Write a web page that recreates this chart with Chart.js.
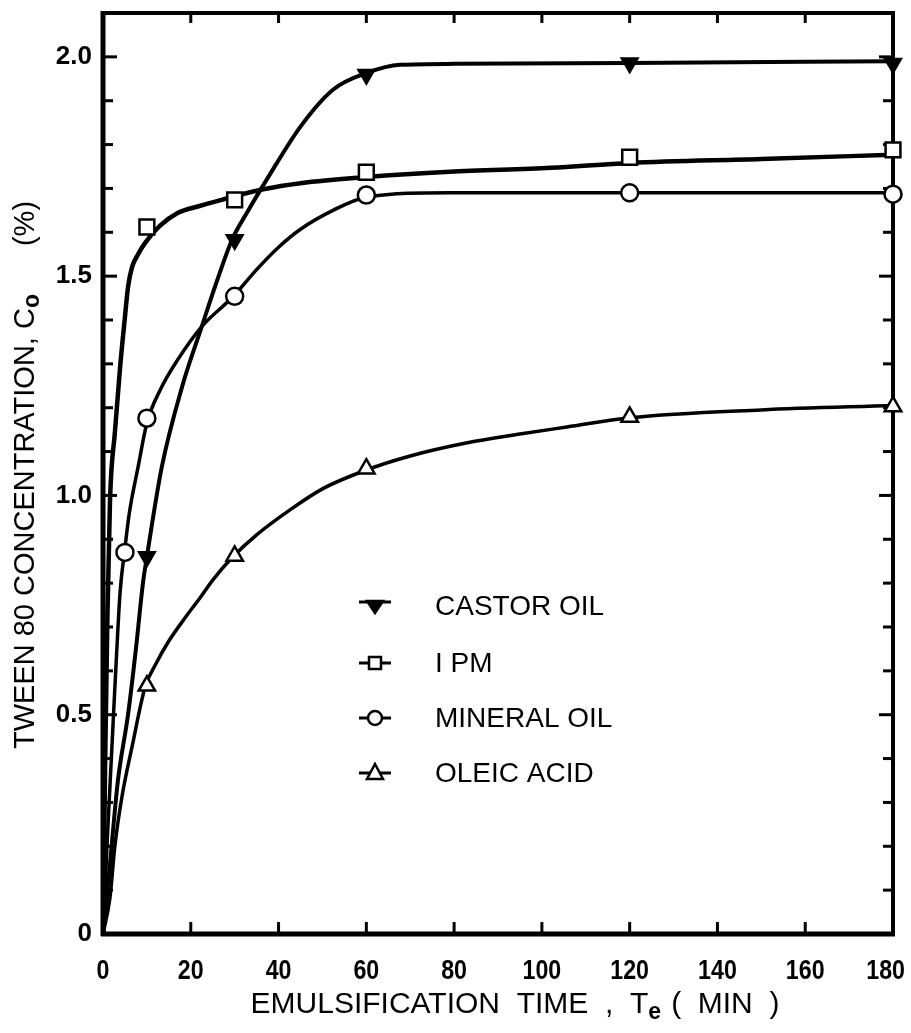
<!DOCTYPE html>
<html>
<head>
<meta charset="utf-8">
<script src="https://cdn.jsdelivr.net/npm/chart.js@4.4.1/dist/chart.umd.min.js"></script>
<style>
  html, body { margin: 0; padding: 0; background: #fff; }
</style>
</head>
<body>
<canvas id="chart" width="911" height="1033"></canvas>
<script>
// measured points (markers)
const castorTime = [10, 30, 60, 120, 180];
const castorConc = [0.86, 1.583, 1.96, 1.986, 1.985];
const ipmTime = [10, 30, 60, 120, 180];
const ipmConc = [1.612, 1.674, 1.737, 1.771, 1.788];
const mineralTime = [5, 10, 30, 60, 120, 180];
const mineralConc = [0.87, 1.176, 1.454, 1.685, 1.69, 1.687];
const oleicTime = [10, 30, 60, 120, 180];
const oleicConc = [0.566, 0.862, 1.061, 1.179, 1.203];

// hand-drawn curves
const castorFitTime = [0, 1.5, 3.4, 5.7, 7.5, 9.1, 10, 13.4, 18, 22.5, 26, 29.4, 33, 37.3, 45, 52.4, 60, 67.7, 80, 120, 180];
const castorFitConc = [0, 0.15, 0.35, 0.5, 0.65, 0.8, 0.86, 1.065, 1.247, 1.385, 1.49, 1.583, 1.648, 1.72, 1.841, 1.925, 1.963, 1.982, 1.984, 1.986, 1.99];
const ipmFitTime = [0, 0.5, 1, 1.6, 2.7, 3.9, 5, 5.7, 6.6, 8, 9.6, 13, 17, 22, 27, 36.5, 45, 60, 79, 102, 120, 150, 180];
const ipmFitConc = [0, 0.4, 0.72, 0.99, 1.143, 1.293, 1.407, 1.475, 1.52, 1.55, 1.576, 1.615, 1.644, 1.66, 1.674, 1.698, 1.712, 1.726, 1.738, 1.747, 1.758, 1.767, 1.777];
const mineralFitTime = [0, 1, 2, 3, 3.9, 5, 6, 8, 10, 13, 17, 22.5, 29.6, 35, 40, 45, 52.4, 60, 79, 120, 180];
const mineralFitConc = [0, 0.22, 0.42, 0.62, 0.78, 0.88, 0.96, 1.065, 1.165, 1.24, 1.309, 1.385, 1.453, 1.515, 1.566, 1.607, 1.65, 1.68, 1.69, 1.69, 1.69];
const oleicFitTime = [0, 1.6, 2.7, 4.3, 6.6, 9.6, 12, 15, 19, 22, 25, 29.6, 35, 42.6, 50, 60, 70, 83, 95, 105.7, 120, 150, 180];
const oleicFitConc = [0, 0.084, 0.2, 0.312, 0.426, 0.563, 0.615, 0.668, 0.725, 0.765, 0.807, 0.86, 0.91, 0.967, 1.015, 1.058, 1.09, 1.12, 1.14, 1.156, 1.177, 1.195, 1.205];

const xTicksMax = 180;
const yTicksMax = 2.1;

const FONT = '"Liberation Sans", Arial, sans-serif';

const pts = (xs, ys) => xs.map((x, i) => ({ x: x, y: ys[i] }));

const fitLine = (xs, ys, w) => ({
    data: pts(xs, ys),
    showLine: true,
    borderColor: '#000',
    borderWidth: w,
    pointRadius: 0,
    cubicInterpolationMode: 'monotone',
    order: 2,
});

const markers = (xs, ys, style, fill, r, rot) => ({
    data: pts(xs, ys),
    showLine: false,
    pointStyle: style,
    pointRadius: r,
    pointRotation: rot || 0,
    pointBackgroundColor: fill,
    pointBorderColor: '#000',
    pointBorderWidth: 2.5,
    clip: false,
    order: 1,
});

// frame with inward ticks on all four sides
const framePlugin = {
    id: 'frame',
    beforeDatasetsDraw(chart) {
        const { ctx, chartArea: a, scales: { x, y } } = chart;
        ctx.save();
        ctx.strokeStyle = '#000';
        ctx.lineWidth = 3;
        const seg = (x1, y1, x2, y2) => { ctx.beginPath(); ctx.moveTo(x1, y1); ctx.lineTo(x2, y2); ctx.stroke(); };
        y.ticks.forEach(t => {
            const k = Math.round(t.value * 10);
            if (k <= 0 || k >= 21) return;
            const p = y.getPixelForValue(t.value);
            const len = k % 5 === 0 ? 14 : 10;
            seg(a.left, p, a.left + len, p);
            seg(a.right, p, a.right - len, p);
        });
        x.ticks.forEach(t => {
            if (t.value <= 0 || t.value >= xTicksMax) return;
            const p = x.getPixelForValue(t.value);
            seg(p, a.bottom, p, a.bottom - 12);
            seg(p, a.top, p, a.top + 10);
        });
        ctx.lineWidth = 4;
        ctx.strokeRect(a.left, a.top, a.right - a.left, a.bottom - a.top);
        ctx.lineWidth = 5;
        seg(a.left, a.top - 2, a.left, a.bottom + 2);
        seg(a.left - 2, a.bottom, a.right + 2, a.bottom);
        ctx.restore();
    }
};

// x tick labels, a bit condensed; the last one is kept inside the canvas
const xLabelsPlugin = {
    id: 'xLabels',
    afterDraw(chart) {
        const { ctx, chartArea: a, scales: { x } } = chart;
        ctx.save();
        ctx.fillStyle = '#000';
        ctx.font = 'bold 27px ' + FONT;
        ctx.textAlign = 'center';
        ctx.textBaseline = 'middle';
        x.ticks.forEach(t => {
            const label = String(t.value);
            const w = ctx.measureText(label).width * 0.86;
            const p = Math.min(x.getPixelForValue(t.value), chart.width - w / 2 - 6);
            ctx.save();
            ctx.translate(p, a.bottom + 38);
            ctx.scale(0.86, 1);
            ctx.fillText(label, 0, 0);
            ctx.restore();
        });
        ctx.restore();
    }
};

// draws text runs, some of them as subscripts
function drawRuns(ctx, runs) {
    let total = 0;
    runs.forEach(r => { ctx.font = r.font; r.w = ctx.measureText(r.text).width; total += r.w + (r.gap || 0); });
    let cx = -total / 2;
    runs.forEach(r => {
        ctx.font = r.font;
        ctx.fillText(r.text, cx, r.dy || 0);
        cx += r.w + (r.gap || 0);
    });
}

const titlesPlugin = {
    id: 'titles',
    afterDraw(chart) {
        const { ctx, chartArea: a } = chart;
        ctx.save();
        ctx.fillStyle = '#000';
        ctx.textBaseline = 'alphabetic';
        ctx.textAlign = 'left';
        // x title
        ctx.save();
        ctx.translate(a.left + 412, 1013);
        drawRuns(ctx, [
            { text: 'EMULSIFICATION  TIME  ,  T', font: '30px ' + FONT },
            { text: 'e', font: 'bold 23px ' + FONT, dy: 6, gap: 10 },
            { text: '(  MIN  )', font: '30px ' + FONT },
        ]);
        ctx.restore();
        // y title
        ctx.save();
        ctx.translate(34, a.top + 462);
        ctx.rotate(-Math.PI / 2);
        drawRuns(ctx, [
            { text: 'TWEEN 80 CONCENTRATION, C', font: '29px ' + FONT },
            { text: 'o', font: 'bold 23px ' + FONT, dy: 5, gap: 48 },
            { text: '(%)', font: '29px ' + FONT },
        ]);
        ctx.restore();
        ctx.restore();
    }
};

const legendItems = [
    { label: 'CASTOR OIL', style: 'triDown' },
    { label: 'I PM', style: 'rect' },
    { label: 'MINERAL OIL', style: 'circle' },
    { label: 'OLEIC ACID', style: 'triUp' },
];

const legendPlugin = {
    id: 'innerLegend',
    afterDatasetsDraw(chart) {
        const { ctx, chartArea: a } = chart;
        const mx = a.left + 272, tx = a.left + 332;
        const rows = [593, 650, 705, 760];
        ctx.save();
        ctx.strokeStyle = '#000';
        ctx.fillStyle = '#000';
        legendItems.forEach((it, i) => {
            const my = a.top + rows[i];
            ctx.lineWidth = 3;
            ctx.beginPath();
            ctx.moveTo(mx - 16, it.style === 'triDown' ? my - 4 : my);
            ctx.lineTo(mx + 16, it.style === 'triDown' ? my - 4 : my);
            ctx.stroke();
            ctx.lineWidth = 2.5;
            ctx.beginPath();
            if (it.style === 'triDown') {
                ctx.moveTo(mx - 8, my - 5); ctx.lineTo(mx + 8, my - 5); ctx.lineTo(mx, my + 7); ctx.closePath();
                ctx.fillStyle = '#000'; ctx.fill(); ctx.stroke();
            } else if (it.style === 'rect') {
                ctx.rect(mx - 6, my - 6, 12, 12);
                ctx.fillStyle = '#fff'; ctx.fill(); ctx.stroke();
            } else if (it.style === 'circle') {
                ctx.arc(mx, my, 7, 0, Math.PI * 2);
                ctx.fillStyle = '#fff'; ctx.fill(); ctx.stroke();
            } else {
                ctx.moveTo(mx, my - 9); ctx.lineTo(mx + 8, my + 6); ctx.lineTo(mx - 8, my + 6); ctx.closePath();
                ctx.fillStyle = '#fff'; ctx.fill(); ctx.stroke();
            }
            ctx.fillStyle = '#000';
            ctx.font = '28px ' + FONT;
            ctx.textBaseline = 'middle';
            ctx.fillText(it.label, tx, my + 1);
        });
        ctx.restore();
    }
};

const noPad = s => { s.paddingLeft = 0; s.paddingRight = 0; s.paddingTop = 0; s.paddingBottom = 0; };

new Chart(document.getElementById('chart'), {
    type: 'scatter',
    data: {
        datasets: [
            markers(castorTime, castorConc, 'triangle', '#000', 9, 180),
            markers(ipmTime, ipmConc, 'rect', '#fff', 10.5),
            markers(mineralTime, mineralConc, 'circle', '#fff', 8.5),
            markers(oleicTime, oleicConc, 'triangle', '#fff', 9.5),
            fitLine(castorFitTime, castorFitConc, 4),
            fitLine(ipmFitTime, ipmFitConc, 4.5),
            fitLine(mineralFitTime, mineralFitConc, 3.5),
            fitLine(oleicFitTime, oleicFitConc, 3.5),
        ]
    },
    options: {
        responsive: false,
        animation: false,
        devicePixelRatio: 1,
        layout: { padding: { top: 13, right: 18, left: 0, bottom: 0 } },
        plugins: { legend: { display: false }, tooltip: { enabled: false } },
        scales: {
            x: {
                type: 'linear', min: 0, max: xTicksMax,
                grid: { display: false, drawTicks: false },
                border: { display: false },
                ticks: { stepSize: 20, display: false },
                afterFit: s => { s.height = 99; noPad(s); },
            },
            y: {
                type: 'linear', min: 0, max: yTicksMax,
                grid: { display: false, drawTicks: false },
                border: { display: false },
                ticks: {
                    stepSize: 0.1, color: '#000', padding: 11, autoSkip: false,
                    font: { family: FONT, size: 26, weight: 'bold' },
                    callback: v => {
                        const k = Math.round(v * 10);
                        if (k % 5 !== 0) return '';
                        return k === 0 ? '0' : (k / 10).toFixed(1);
                    }
                },
                afterFit: s => { s.width = 103; noPad(s); },
            }
        }
    },
    plugins: [framePlugin, legendPlugin, xLabelsPlugin, titlesPlugin]
});
</script>
</body>
</html>
